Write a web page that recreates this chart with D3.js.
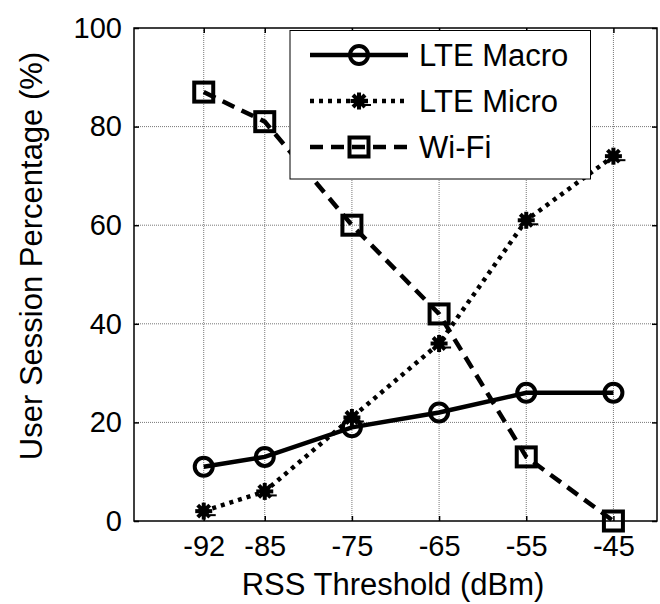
<!DOCTYPE html>
<html>
<head>
<meta charset="utf-8">
<script src="https://cdn.jsdelivr.net/npm/d3@7"></script>
<style>
  body { margin: 0; background: #fff; }
  svg text { font-family: "Liberation Sans", Arial, sans-serif; fill: #000; }
</style>
</head>
<body>
<div class="plot-container"></div>
<script>
const thresholds = [-92, -85, -75, -65, -55, -45];
const yTicks = [0, 20, 40, 60, 80, 100];
const lteMacro = [11, 13, 19, 22, 26, 26];
const lteMicro = [2, 6, 21, 36, 61, 74];
const wifi = [87, 81, 60, 42, 13, 0];
const seriesNames = ["LTE Macro", "LTE Micro", "Wi-Fi"];

const width = 660, height = 604;
const svg = d3.select("div.plot-container").append("svg")
  .attr("width", width).attr("height", height);

const x = d3.scaleLinear().domain([-100, -40]).range([134, 657]);
const y = d3.scaleLinear().domain([0, 100]).range([521, 28]);

const LINE_W = 4.5;
const MARKER_W = 4;

// grid
const grid = svg.append("g").attr("class", "grid")
  .attr("stroke", "#777").attr("stroke-width", 1).attr("stroke-dasharray", "1,1");
grid.selectAll("line.v").data(thresholds).enter().append("line")
  .attr("x1", d => x(d)).attr("x2", d => x(d))
  .attr("y1", y(0)).attr("y2", y(100));
grid.selectAll("line.h").data(yTicks.slice(1, -1)).enter().append("line")
  .attr("x1", x(-100)).attr("x2", x(-40))
  .attr("y1", d => y(d)).attr("y2", d => y(d));

// axes (MATLAB style, ticks pointing in)
const hyphen = d => String(d);
const xAxisB = d3.axisBottom(x).tickValues(thresholds).tickSizeInner(-5).tickSizeOuter(0).tickPadding(14).tickFormat(hyphen);
const xAxisT = d3.axisTop(x).tickValues(thresholds).tickSizeInner(-5).tickSizeOuter(0).tickFormat("");
const yAxisL = d3.axisLeft(y).tickValues(yTicks).tickSizeInner(-5).tickSizeOuter(0).tickPadding(12).tickFormat(hyphen);
const yAxisR = d3.axisRight(y).tickValues(yTicks).tickSizeInner(-5).tickSizeOuter(0).tickFormat("");

function styleAxis(g) {
  g.select(".domain").remove();
  g.selectAll(".tick line").attr("stroke", "#000").attr("stroke-width", 1.5);
  g.selectAll(".tick text").style("font-size", "29px").attr("fill", "#000");
}
svg.append("g").attr("transform", `translate(0,${y(0)})`).call(xAxisB).call(styleAxis)
  .selectAll(".tick text").attr("dy", "0.71em");
svg.append("g").attr("transform", `translate(0,${y(100)})`).call(xAxisT).call(styleAxis);
svg.append("g").attr("transform", `translate(${x(-100)},0)`).call(yAxisL).call(styleAxis);
svg.append("g").attr("transform", `translate(${x(-40)},0)`).call(yAxisR).call(styleAxis);

svg.append("rect")
  .attr("x", x(-100)).attr("y", y(100))
  .attr("width", x(-40) - x(-100)).attr("height", y(0) - y(100))
  .attr("fill", "none").attr("stroke", "#000").attr("stroke-width", 1.5);

// markers
function circleMarker(g) {
  g.append("circle").attr("r", 9).attr("fill", "#fff").attr("fill-opacity", 0)
    .attr("stroke", "#000").attr("stroke-width", MARKER_W);
}
function squareMarker(g) {
  g.append("rect").attr("x", -9.5).attr("y", -9.5).attr("width", 19).attr("height", 19)
    .attr("fill", "none").attr("stroke", "#000").attr("stroke-width", MARKER_W);
}
function starMarker(g) {
  const s = 8.5, d = 6;
  const segs = [[-s, 0, s, 0], [0, -s, 0, s], [-d, -d, d, d], [-d, d, d, -d]];
  g.selectAll("line.st").data(segs).enter().append("line")
    .attr("x1", v => v[0]).attr("y1", v => v[1]).attr("x2", v => v[2]).attr("y2", v => v[3])
    .attr("stroke", "#000").attr("stroke-width", MARKER_W);
  g.append("path").attr("d", "M0,-7L7,0L0,7L-7,0Z").attr("fill", "#000");
  g.append("line").attr("x1", 6).attr("x2", 12).attr("y1", 4).attr("y2", 4)
    .attr("stroke", "#000").attr("stroke-width", 2);
}

const series = [
  { name: seriesNames[0], values: lteMacro, dash: null, marker: circleMarker },
  { name: seriesNames[1], values: lteMicro, dash: "4,5", marker: starMarker },
  { name: seriesNames[2], values: wifi, dash: "13,8", marker: squareMarker }
];

const line = d3.line().x(d => x(d[0])).y(d => y(d[1]));

series.forEach(s => {
  const pts = thresholds.map((t, i) => [t, s.values[i]]);
  svg.append("path").datum(pts)
    .attr("d", line)
    .attr("fill", "none").attr("stroke", "#000").attr("stroke-width", LINE_W)
    .attr("stroke-dasharray", s.dash);
  pts.forEach(p => {
    const g = svg.append("g").attr("transform", `translate(${x(p[0])},${y(p[1])})`);
    s.marker(g);
  });
});

// legend
const legend = svg.append("g");
legend.append("rect").attr("x", 290).attr("y", 30.5).attr("width", 300.5).attr("height", 148.5)
  .attr("fill", "#fff").attr("stroke", "#000").attr("stroke-width", 1);
const rowY = [55, 101, 147];
series.forEach((s, i) => {
  legend.append("line")
    .attr("x1", 310).attr("x2", 408).attr("y1", rowY[i]).attr("y2", rowY[i])
    .attr("stroke", "#000").attr("stroke-width", LINE_W).attr("stroke-dasharray", s.dash);
  const g = legend.append("g").attr("transform", `translate(359,${rowY[i]})`);
  s.marker(g);
  legend.append("text").attr("x", 419).attr("y", rowY[i] + 11)
    .style("font-size", "31px").text(s.name);
});

// axis labels
svg.append("text").attr("x", 393).attr("y", 595).attr("text-anchor", "middle")
  .style("font-size", "31px").text("RSS Threshold (dBm)");
svg.append("text").attr("transform", "translate(42,256) rotate(-90)")
  .attr("text-anchor", "middle").style("font-size", "31px").text("User Session Percentage (%)");
</script>
</body>
</html>
